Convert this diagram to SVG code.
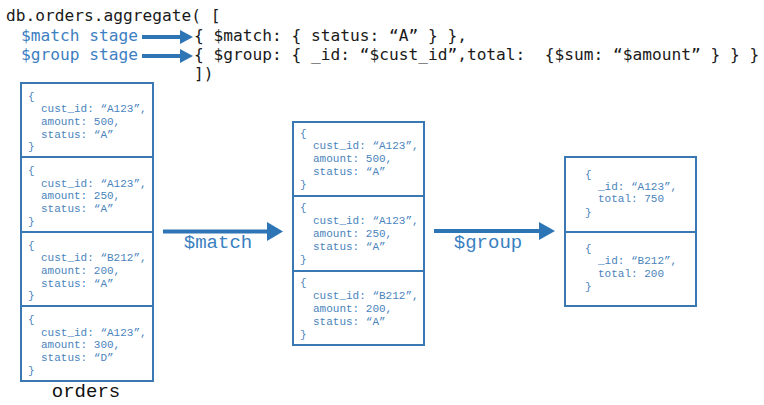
<svg xmlns="http://www.w3.org/2000/svg" width="764" height="405" viewBox="0 0 764 405">
<style>
.code{font-family:"DejaVu Sans Mono","Liberation Mono",monospace;font-size:16.2px;fill:#1a1a1a;white-space:pre}
.stage{fill:#3d80c2}
.doc{fill:#fff;stroke:#3a78b4;stroke-width:2}
.dt{font-family:"Liberation Mono","Courier New",monospace;font-size:11px;fill:#4a84bc}
.lbl{font-family:"Liberation Mono","Courier New",monospace;font-size:19px;fill:#3a7fc0}
.ttl{font-family:"Liberation Mono","Courier New",monospace;font-size:19px;fill:#111}
.ln{stroke:#2e75b6;stroke-width:4;fill:none}
.hd{fill:#2e75b6}
</style>
<rect width="764" height="405" fill="#fff"/>
<g id="code">
<text class="code" x="6" y="21">db.orders.aggregate( [</text>
<text class="code stage" x="21" y="40.5">$match stage</text>
<text class="code stage" x="21" y="60">$group stage</text>
<text class="code" x="194" y="40.5">{ $match: { status: “A” } },</text>
<text class="code" x="194" y="60" xml:space="preserve">{ $group: { _id: “$cust_id”,total:  {$sum: “$amount” } } }</text>
<text class="code" x="194" y="79">])</text>
</g>
<g id="connectors">
<line class="ln" x1="142" y1="37" x2="182" y2="37"/>
<polygon class="hd" points="180,30 193,37 180,44"/>
<line class="ln" x1="142" y1="56" x2="182" y2="56"/>
<polygon class="hd" points="180,49 193,56 180,63"/>
<line class="ln" x1="163" y1="231.5" x2="269" y2="231.5"/>
<polygon class="hd" points="267,222 283,231.5 267,241"/>
<line class="ln" x1="434" y1="231" x2="541" y2="231"/>
<polygon class="hd" points="539,222 555,231 539,240"/>
<text class="lbl" x="218" y="248" text-anchor="middle">$match</text>
<text class="lbl" x="488" y="248" text-anchor="middle">$group</text>
</g>
<g id="orders">
<g id="orders-doc1">
<rect class="doc" x="21" y="83" width="132" height="74"/>
<text class="dt" x="28" y="99.5">{</text>
<text class="dt" x="41" y="112.2">cust_id: “A123”,</text>
<text class="dt" x="41" y="124.9">amount: 500,</text>
<text class="dt" x="41" y="137.6">status: “A”</text>
<text class="dt" x="28" y="150.3">}</text>
</g>
<g id="orders-doc2">
<rect class="doc" x="21" y="157" width="132" height="75"/>
<text class="dt" x="28" y="174">{</text>
<text class="dt" x="41" y="186.7">cust_id: “A123”,</text>
<text class="dt" x="41" y="199.4">amount: 250,</text>
<text class="dt" x="41" y="212.1">status: “A”</text>
<text class="dt" x="28" y="224.8">}</text>
</g>
<g id="orders-doc3">
<rect class="doc" x="21" y="232" width="132" height="74"/>
<text class="dt" x="28" y="248.5">{</text>
<text class="dt" x="41" y="261.2">cust_id: “B212”,</text>
<text class="dt" x="41" y="273.9">amount: 200,</text>
<text class="dt" x="41" y="286.6">status: “A”</text>
<text class="dt" x="28" y="299.3">}</text>
</g>
<g id="orders-doc4">
<rect class="doc" x="21" y="306" width="132" height="75"/>
<text class="dt" x="28" y="323">{</text>
<text class="dt" x="41" y="335.7">cust_id: “A123”,</text>
<text class="dt" x="41" y="348.4">amount: 300,</text>
<text class="dt" x="41" y="361.1">status: “D”</text>
<text class="dt" x="28" y="373.8">}</text>
</g>
<text class="ttl" x="86" y="397" text-anchor="middle">orders</text>
</g>
<g id="matched">
<g id="matched-doc1">
<rect class="doc" x="293" y="122" width="131" height="74"/>
<text class="dt" x="300" y="136.5">{</text>
<text class="dt" x="313" y="149.4">cust_id: “A123”,</text>
<text class="dt" x="313" y="162.2">amount: 500,</text>
<text class="dt" x="313" y="175">status: “A”</text>
<text class="dt" x="300" y="188">}</text>
</g>
<g id="matched-doc2">
<rect class="doc" x="293" y="196" width="131" height="75"/>
<text class="dt" x="300" y="211">{</text>
<text class="dt" x="313" y="223.9">cust_id: “A123”,</text>
<text class="dt" x="313" y="236.7">amount: 250,</text>
<text class="dt" x="313" y="249.5">status: “A”</text>
<text class="dt" x="300" y="262.5">}</text>
</g>
<g id="matched-doc3">
<rect class="doc" x="293" y="271" width="131" height="74"/>
<text class="dt" x="300" y="286">{</text>
<text class="dt" x="313" y="298.9">cust_id: “B212”,</text>
<text class="dt" x="313" y="311.7">amount: 200,</text>
<text class="dt" x="313" y="324.5">status: “A”</text>
<text class="dt" x="300" y="337.5">}</text>
</g>
</g>
<g id="grouped">
<g id="grouped-doc1">
<rect class="doc" x="565" y="157" width="131" height="75"/>
<text class="dt" x="585" y="177.5">{</text>
<text class="dt" x="598" y="189.5">_id: “A123”,</text>
<text class="dt" x="598" y="202">total: 750</text>
<text class="dt" x="585" y="216">}</text>
</g>
<g id="grouped-doc2">
<rect class="doc" x="565" y="232" width="131" height="74"/>
<text class="dt" x="585" y="251.5">{</text>
<text class="dt" x="598" y="264">_id: “B212”,</text>
<text class="dt" x="598" y="276.5">total: 200</text>
<text class="dt" x="585" y="290">}</text>
</g>
</g>
</svg>
